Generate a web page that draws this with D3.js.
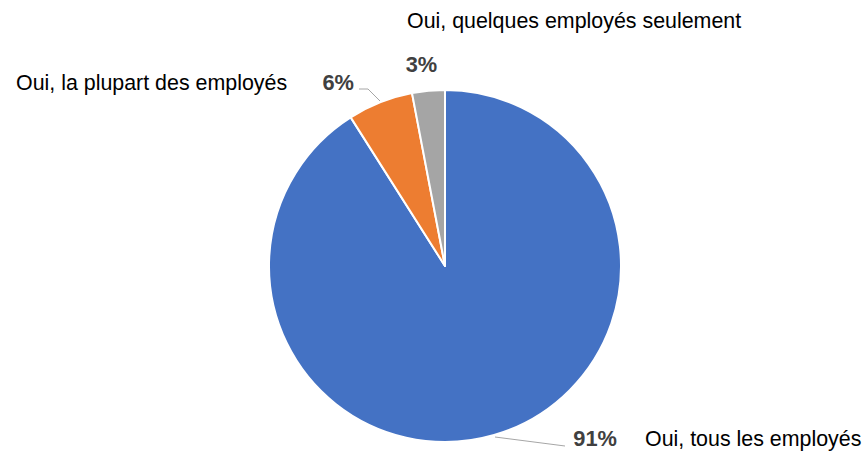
<!DOCTYPE html>
<html><head><meta charset="utf-8">
<script src="https://cdn.jsdelivr.net/npm/d3@7"></script>
<style>body{margin:0;background:#fff}</style>
</head><body>
<svg id="c" width="863" height="451"></svg>
<script>
const categories = ["Oui, tous les employés", "Oui, la plupart des employés", "Oui, quelques employés seulement"];
const values = [91, 6, 3];
const colors = ["#4472C4", "#ED7D31", "#A5A5A5"];

const svg = d3.select("#c");
const cx = 445, cy = 266, r = 176;
const g = svg.append("g").attr("transform", `translate(${cx},${cy})`);
const pie = d3.pie().sort(null).value(d => d)(values);
const arc = d3.arc().innerRadius(0).outerRadius(r);
g.selectAll("path").data(pie).join("path")
  .attr("d", arc).attr("fill", (d, i) => colors[i])
  .attr("stroke", "#fff").attr("stroke-width", 2).attr("stroke-linejoin", "round");

const font = "'Liberation Sans', Arial, Helvetica, sans-serif";
const labels = [
  {pct: {x: 617, y: 446, anchor: "end"}, cat: {x: 645, y: 446, anchor: "start"},
   line: [[495, 437], [565, 446]]},
  {pct: {x: 354, y: 90, anchor: "end"}, cat: {x: 16, y: 90, anchor: "start"},
   line: [[359, 89], [368, 89], [380, 101]]},
  {pct: {x: 421.5, y: 72, anchor: "middle"}, cat: {x: 407, y: 28, anchor: "start"}, line: null}
];
labels.forEach((L, i) => {
  if (L.line) svg.append("path").attr("d", d3.line()(L.line))
    .attr("fill", "none").attr("stroke", "#A6A6A6").attr("stroke-width", 1);
  svg.append("text").attr("x", L.pct.x).attr("y", L.pct.y).attr("text-anchor", L.pct.anchor)
    .attr("font-family", font).attr("font-size", 21.8).attr("font-weight", "bold")
    .attr("fill", "#404040").text(Math.round(values[i]) + "%");
  svg.append("text").attr("x", L.cat.x).attr("y", L.cat.y).attr("text-anchor", L.cat.anchor)
    .attr("font-family", font).attr("font-size", 21.4).attr("fill", "#000").text(categories[i]);
});
</script>
</body></html>
